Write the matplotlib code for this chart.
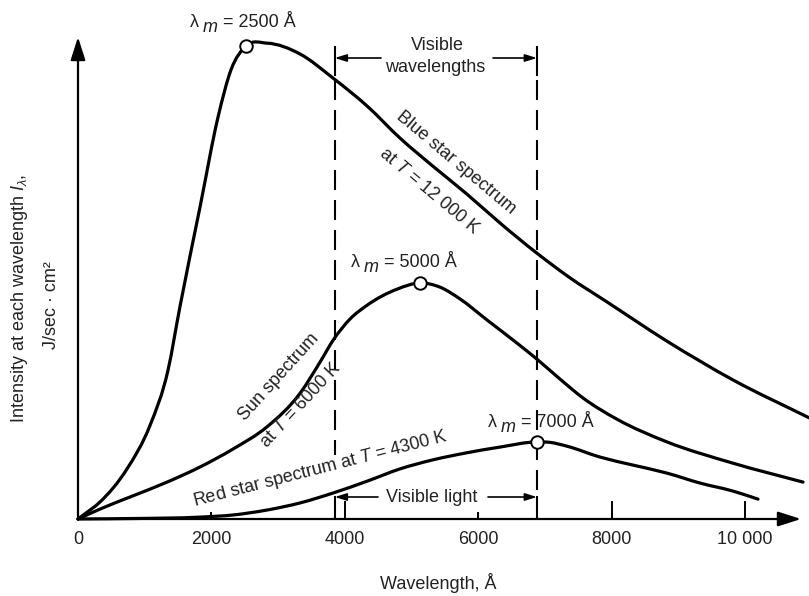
import matplotlib
matplotlib.use("Agg")
import matplotlib.pyplot as plt
from matplotlib.path import Path
from matplotlib.patches import PathPatch
from matplotlib.transforms import offset_copy
import numpy as np

plt.rcParams['font.family'] = ['Liberation Sans', 'DejaVu Sans']
plt.rcParams['mathtext.fontset'] = 'custom'
plt.rcParams['mathtext.rm'] = 'Liberation Sans'
plt.rcParams['mathtext.it'] = 'Liberation Sans:italic'
plt.rcParams['mathtext.bf'] = 'Liberation Sans:bold'

# ---------------- data ----------------
blue_wl = [0, 75, 330, 735, 1080, 1350, 1530, 1830, 2100, 2295, 2520, 2835,
           3330, 3825, 4335, 4830, 5320, 5830, 6325, 6880, 7375, 7930, 8830,
           9820, 10960]
blue_I = [0, 0.8, 3.6, 10.6, 19.8, 31.5, 45.0, 66.0, 85.0, 95.0, 100.0, 100.6,
          98.3, 93.2, 87.3, 80.5, 74.6, 68.7, 62.6, 56.2, 51.0, 45.9, 37.6,
          29.4, 21.4]

sun_wl = [0, 330, 825, 1335, 1830, 2325, 2835, 3330, 3630, 3825, 4080, 4335,
          4785, 5130, 5430, 5730, 6130, 6580, 6880, 7225, 7570, 8080, 8830,
          9820, 10870]
sun_I = [0, 2.1, 4.9, 7.8, 11.0, 14.8, 19.5, 26.6, 33.2, 37.8, 42.3, 45.2,
         48.6, 49.9, 49.0, 46.5, 42.1, 37.2, 33.8, 29.6, 25.6, 21.1, 16.3,
         11.8, 7.8]

red_wl = [0, 825, 1830, 2325, 2835, 3330, 3825, 4335, 4830, 5320, 5830, 6325,
          6880, 7075, 7330, 7825, 8320, 8830, 9325, 9820, 10195]
red_I = [0, 0.1, 0.4, 0.85, 1.9, 3.4, 5.5, 8.0, 10.6, 12.5, 14.0, 15.2,
         16.3, 16.2, 15.4, 13.1, 11.4, 9.7, 7.6, 5.9, 4.2]

peak_wl = [2520, 5130, 6880]
peak_I = [100.0, 49.9, 16.3]
peak_labels = ["2500", "5000", "7000"]

visible_range = [3850, 6880]

major_ticks = [0, 4000, 8000, 10000]
major_labels = ["0", "4000", "8000", "10 000"]
minor_ticks = [2000, 6000]
minor_labels = ["2000", "6000"]

# ---------------- figure ----------------
W, H = 809, 596
fig = plt.figure(figsize=(W / 100, H / 100), dpi=100)
X0, Y0 = 78, 519          # pixel position of the origin
PX_PER_X = 66.7 / 1000.0  # pixels per Angstrom
PX_PER_Y = 4.73           # pixels per intensity unit
ax = fig.add_axes([X0 / W, (H - Y0) / H, (W - X0) / W, Y0 / H])
ax.set_xlim(0, (W - X0) / PX_PER_X)
ax.set_ylim(0, Y0 / PX_PER_Y)
for s in ax.spines.values():
    s.set_visible(False)


def P(px, py):
    """pixel position -> data coordinates (for annotation placement)"""
    return ((px - X0) / PX_PER_X, (Y0 - py) / PX_PER_Y)


def smooth_path(xs, ys):
    x = np.asarray(xs, float)
    y = np.asarray(ys, float)
    n = len(x)
    h = np.diff(x)
    d = np.diff(y) / h
    m = np.zeros(n)
    m[0] = d[0]
    m[-1] = d[-1]
    for i in range(1, n - 1):
        m[i] = (d[i] * h[i - 1] + d[i - 1] * h[i]) / (h[i - 1] + h[i])
    verts = [(x[0], y[0])]
    codes = [Path.MOVETO]
    for i in range(n - 1):
        c1 = (x[i] + h[i] / 3, y[i] + m[i] * h[i] / 3)
        c2 = (x[i + 1] - h[i] / 3, y[i + 1] - m[i + 1] * h[i] / 3)
        verts += [c1, c2, (x[i + 1], y[i + 1])]
        codes += [Path.CURVE4] * 3
    return Path(verts, codes)


for wl, inten in [(blue_wl, blue_I), (sun_wl, sun_I), (red_wl, red_I)]:
    ax.add_patch(PathPatch(smooth_path(wl, inten), fill=False, lw=2.3,
                           edgecolor='black', capstyle='round',
                           joinstyle='round', clip_on=False, zorder=3))

ax.plot(peak_wl, peak_I, 'o', ms=9, mfc='white', mec='black', mew=1.4,
        zorder=5, clip_on=False)

# axes with arrows
arrow_kw = dict(arrowstyle='-|>,head_length=1.0,head_width=0.32',
                lw=1.6, color='black', mutation_scale=14,
                shrinkA=0, shrinkB=0)
ax.annotate('', xy=P(801, Y0), xytext=(0, 0), xycoords='data',
            arrowprops=arrow_kw, annotation_clip=False, zorder=4)
ax.annotate('', xy=P(X0, 37), xytext=(0, 0), xycoords='data',
            arrowprops=arrow_kw, annotation_clip=False, zorder=4)

# ticks
ax.set_xticks(major_ticks)
ax.set_xticklabels(major_labels)
ax.set_xticks(minor_ticks, minor=True)
ax.set_xticklabels(minor_labels, minor=True)
ax.tick_params(axis='x', which='major', direction='in', length=13, width=1.4,
               pad=9, labelsize=13, colors='black', labelcolor='#222222')
ax.tick_params(axis='x', which='minor', direction='in', length=5, width=1.4,
               pad=9, labelsize=13, colors='black', labelcolor='#222222')
ax.tick_params(axis='y', left=False, labelleft=False)

# visible-band markers
vl, vr = visible_range
dash = (0, (9.6, 4.8))
ax.plot([vl, vl], [P(0, 47)[1], P(0, 75)[1]], color='black', lw=1.5)
ax.plot([vr, vr], [P(0, 47)[1], P(0, 75)[1]], color='black', lw=1.5)
ax.plot([vl, vl], [P(0, 80)[1], P(0, 455)[1]], color='black', lw=1.5,
        linestyle=dash)
ax.plot([vr, vr], [P(0, 80)[1], P(0, 493)[1]], color='black', lw=1.5,
        linestyle=dash)
ax.plot([vl, vl], [P(0, 497)[1], 0], color='black', lw=1.5)
ax.plot([vr, vr], [P(0, 497)[1], 0], color='black', lw=1.5)

small_arrow = dict(arrowstyle='-|>,head_length=0.7,head_width=0.22',
                   lw=1.2, color='black', mutation_scale=10,
                   shrinkA=0, shrinkB=0)
ax.annotate('', xy=(vl, P(0, 58)[1]), xytext=P(381, 58), arrowprops=small_arrow)
ax.annotate('', xy=(vr, P(0, 58)[1]), xytext=P(493, 58), arrowprops=small_arrow)
ax.annotate('', xy=(vl, P(0, 497)[1]), xytext=P(378, 497), arrowprops=small_arrow)
ax.annotate('', xy=(vr, P(0, 497)[1]), xytext=P(488, 497), arrowprops=small_arrow)

# ---------------- text ----------------
tc = '#222222'
fs = 13


def label(px, py, s, rot=0, **kw):
    x, y = P(px, py)
    ax.text(x, y, s, fontsize=kw.pop('fontsize', fs), color=tc, rotation=rot,
            rotation_mode='anchor', ha='center', va='center',
            clip_on=False, **kw)


def peak_label(px, py, value):
    # "λ m = xxxx Å" with a full-size, lowered italic m (baseline at py)
    x, y = P(px, py)
    parts = [("λ", -56, 0, 'normal'), ("m", -43, -5, 'italic'),
             ("= " + value + " Å", -23, 0, 'normal')]
    for s, dx, dy, style in parts:
        tr = offset_copy(ax.transData, fig=fig, x=dx, y=dy, units='dots')
        ax.text(x, y, s, transform=tr, fontsize=fs, color=tc, style=style,
                ha='left', va='baseline', clip_on=False)


peak_pix = [(246, 27), (407, 267), (544, 427)]
for (px, py), lab in zip(peak_pix, peak_labels):
    peak_label(px, py, lab)

label(437, 45, "Visible")
label(435, 68, "wavelengths")
label(456, 163, "Blue star spectrum", rot=-40)
label(429, 191, r"at $T$ = 12 000 K", rot=-40)
label(279, 377, "Sun spectrum", rot=48)
label(301, 405, r"at $T$ = 6000 K", rot=47)
label(320, 469, r"Red star spectrum at $T$ = 4300 K", rot=14.5)
label(432, 497, "Visible light")

fig.text(438 / W, 1 - 583 / H, "Wavelength, Å", fontsize=fs, color=tc,
         ha='center', va='center')
fig.text(20 / W, 1 - 298 / H, r"Intensity at each wavelength $I_{\lambda}$,",
         fontsize=fs, color=tc, ha='center', va='center', rotation=90)
fig.text(52 / W, 1 - 305 / H, "J/sec · cm²", fontsize=fs, color=tc,
         ha='center', va='center', rotation=90)

fig.savefig("out.png", dpi=100, facecolor='white')
